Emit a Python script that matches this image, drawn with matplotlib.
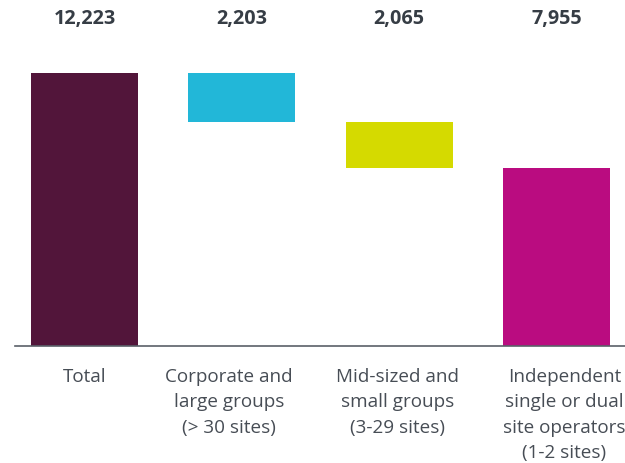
import matplotlib
matplotlib.use("Agg")
import matplotlib.pyplot as plt
import matplotlib.transforms as mtransforms
import numpy as np

categories = ["Total", "Corporate and\nlarge groups\n(> 30 sites)",
              "Mid-sized and\nsmall groups\n(3-29 sites)",
              "Independent\nsingle or dual\nsite operators\n(1-2 sites)"]
values = [12223, 2203, 2065, 7955]
value_labels = ["12,223", "2,203", "2,065", "7,955"]
colors = ["#52153A", "#22B7D8", "#D5DA00", "#BA0C80"]

# waterfall bottoms
bottoms = [0]
running = values[0]
for v in values[1:-1]:
    running -= v
    bottoms.append(running)
bottoms.append(0)

W, H = 625, 463
fig = plt.figure(figsize=(W / 100, H / 100), dpi=100)
left_px, right_px, base_px, top_px = 15, 625, 346, 73
ax = fig.add_axes([left_px / W, (H - base_px) / H, (right_px - left_px) / W, (base_px - top_px) / H])

x = np.arange(len(categories))
ax.bar(x, values, bottom=bottoms, width=0.68, color=colors, zorder=2)

ax.set_xlim(-0.4417, 3.4355)
ax.set_ylim(0, values[0])

fam = ["Open Sans", "DejaVu Sans"]
for xi, lab in zip(x, value_labels):
    ax.text(xi, 1.197, lab, transform=ax.get_xaxis_transform(), ha="center", va="center",
            fontsize=14.2, fontweight="bold", color="#363D45", family=fam, clip_on=False)

# category labels (slight horizontal offsets as in reference, in pixels)
label_dx = [0, -13, -2, 8]
base_tr = ax.get_xaxis_transform()
for xi, lab, dx in zip(x, categories, label_dx):
    tr = mtransforms.offset_copy(base_tr, fig=fig, x=dx, y=-22, units="dots")
    ax.text(xi, 0, lab, transform=tr, ha="center", va="top", multialignment="center",
            fontsize=13.6, color="#474D55", family=fam, linespacing=1.52, clip_on=False)

for s in ["top", "right", "left"]:
    ax.spines[s].set_visible(False)
ax.spines["bottom"].set_color("#5A6068")
ax.spines["bottom"].set_linewidth(1.2)
ax.spines["bottom"].set_zorder(3)
ax.set_yticks([])
ax.set_xticks([])

fig.savefig("out.png", dpi=100)
